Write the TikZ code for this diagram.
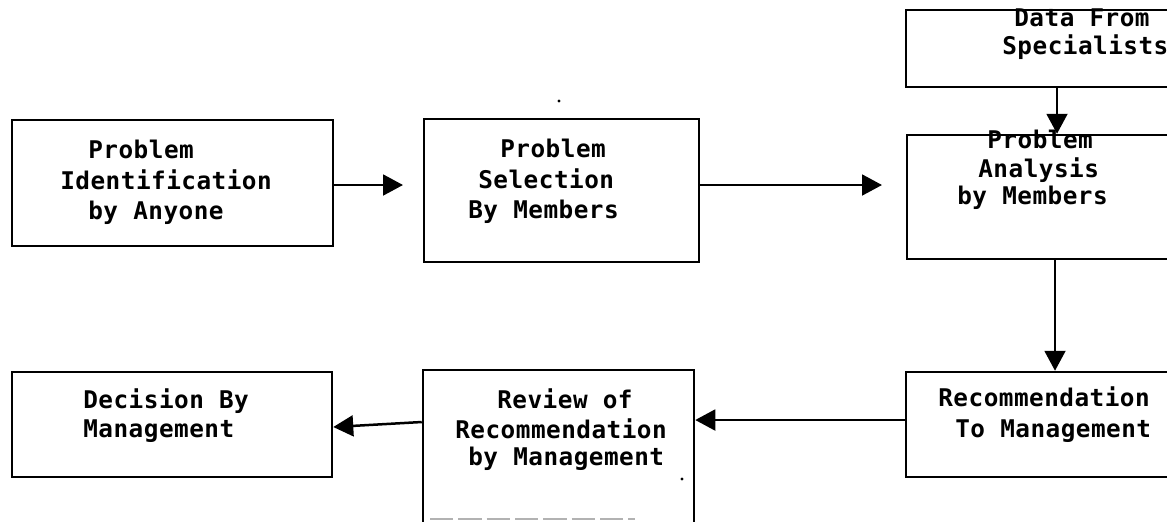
\documentclass[tikz,border=0pt]{standalone}
\usepackage{fontspec}
\newfontfamily\typefont[LetterSpace=2]{DejaVu Sans Mono Bold}
\usetikzlibrary{arrows.meta,fit}
\tikzset{
  box/.style={draw, line width=1.5pt, inner sep=0pt, rectangle},
  txt/.style={anchor=base west, inner sep=0pt, font=\typefont\fontsize{14.6pt}{17pt}\selectfont},
  flow/.style={line width=1.5pt, -{Triangle[length=12pt,width=12.5pt]}},
  speck/.style={fill=black, circle, inner sep=0pt, minimum size=2pt}
}
\begin{document}
\begin{tikzpicture}[x=0.6pt,y=-0.6pt]
\useasboundingbox (0,0) rectangle (1167,521);
\clip (0,0) rectangle (1167,521);

% process boxes
\node[box, fit={(12,120) (333,246)}]   (ident)  {};
\node[box, fit={(424,119) (699,262)}]  (select) {};
\node[box, fit={(906,10) (1180,87)}]   (data)   {};
\node[box, fit={(907,135) (1180,259)}] (anal)   {};
\node[box, fit={(906,372) (1180,477)}] (recom)  {};
\node[box, fit={(423,370) (694,540)}]  (review) {};
\node[box, fit={(12,372) (332,477)}]   (decide) {};

% box captions, one node per typed line
\node[txt] (ident1) at (88,158)  {Problem};
\node[txt] (ident2) at (60,189)  {Identification};
\node[txt] (ident3) at (88,219)  {by Anyone};

\node[txt] (sel1) at (500,157) {Problem};
\node[txt] (sel2) at (478,188) {Selection};
\node[txt] (sel3) at (468,218) {By Members};

\node[txt] (data1) at (1014,26) {Data From};
\node[txt] (data2) at (1002,54) {Specialists};

\node[txt] (anal1) at (987,148) {Problem};
\node[txt] (anal2) at (978,177) {Analysis};
\node[txt] (anal3) at (957,204) {by Members};

\node[txt] (rec1) at (938,406) {Recommendation};
\node[txt] (rec2) at (955,437) {To Management};

\node[txt] (rev1) at (497,408) {Review of};
\node[txt] (rev2) at (455,438) {Recommendation};
\node[txt] (rev3) at (468,465) {by Management};

\node[txt] (dec1) at (83,408) {Decision By};
\node[txt] (dec2) at (83,437) {Management};

% connectors
\coordinate (tipA) at (403,185);
\coordinate (tipB) at (882,185);
\draw[flow] (ident.east |- tipA) -- (tipA);
\draw[flow] (select.east |- tipB) -- (tipB);
\draw[flow] (data.south -| 1057,0) -- (anal.north -| 1057,0);
\draw[flow] (anal.south -| 1055,0) -- (recom.north -| 1055,0);
\draw[flow] (recom.west |- 0,420) -- (review.east |- 0,420);
\draw[flow] (review.west |- 0,422) -- (decide.east |- 0,427);

% small specks on the sheet
\node[speck] (speckA) at (559,101) {};
\node[speck] (speckB) at (682,479) {};
\draw[gray!60, line width=1.2pt, dash pattern=on 14pt off 3pt] (430,519) -- (635,519);
\end{tikzpicture}
\end{document}
